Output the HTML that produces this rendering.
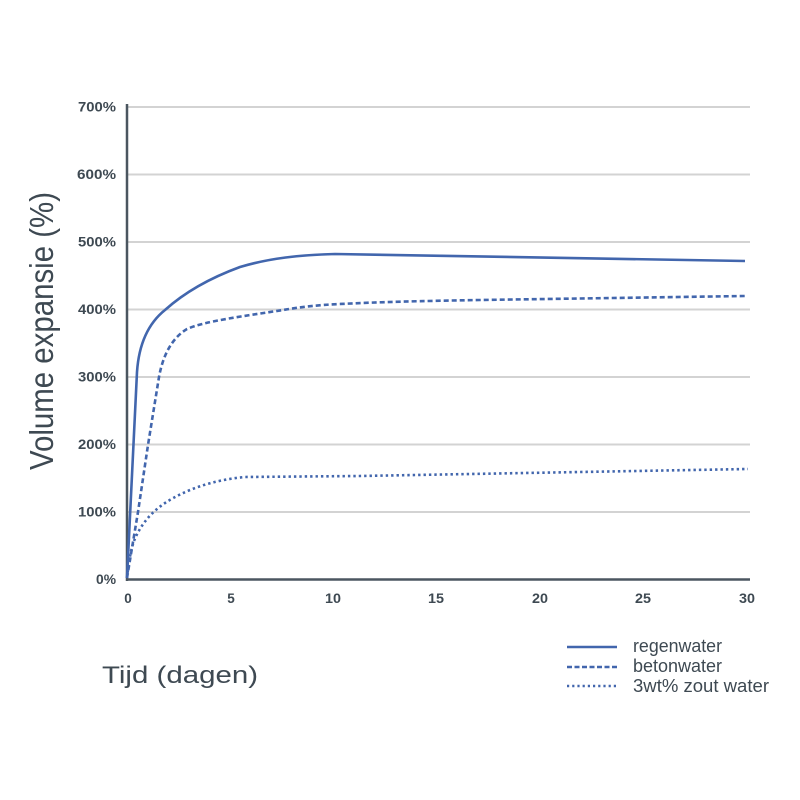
<!DOCTYPE html>
<html>
<head>
<meta charset="utf-8">
<style>
  html,body{margin:0;padding:0;background:#fff;}
  svg{display:block;}
  text{font-family:"Liberation Sans", Arial, sans-serif;fill:#3e4952;}
  .tick{font-weight:bold;font-size:13.5px;}
</style>
</head>
<body>
<svg width="800" height="800" viewBox="0 0 800 800" xmlns="http://www.w3.org/2000/svg">
  <rect width="800" height="800" fill="#ffffff"/>
  <!-- gridlines -->
  <g stroke="#d3d3d3" stroke-width="2">
    <line x1="128" y1="107" x2="750" y2="107"/>
    <line x1="128" y1="174.5" x2="750" y2="174.5"/>
    <line x1="128" y1="242" x2="750" y2="242"/>
    <line x1="128" y1="309.5" x2="750" y2="309.5"/>
    <line x1="128" y1="377" x2="750" y2="377"/>
    <line x1="128" y1="444.5" x2="750" y2="444.5"/>
    <line x1="128" y1="512" x2="750" y2="512"/>
  </g>
  <!-- axes -->
  <line x1="127" y1="104" x2="127" y2="581" stroke="#4b5660" stroke-width="2.5"/>
  <line x1="126" y1="579.5" x2="750" y2="579.5" stroke="#4b5660" stroke-width="2.5"/>

  <!-- y tick labels -->
  <g class="tick" text-anchor="end">
    <text x="116" y="111.5" textLength="38" lengthAdjust="spacingAndGlyphs">700%</text>
    <text x="116" y="179" textLength="39" lengthAdjust="spacingAndGlyphs">600%</text>
    <text x="116" y="246.5" textLength="38" lengthAdjust="spacingAndGlyphs">500%</text>
    <text x="116" y="314" textLength="38" lengthAdjust="spacingAndGlyphs">400%</text>
    <text x="116" y="381.5" textLength="38" lengthAdjust="spacingAndGlyphs">300%</text>
    <text x="116" y="449" textLength="38" lengthAdjust="spacingAndGlyphs">200%</text>
    <text x="116" y="516.5" textLength="38" lengthAdjust="spacingAndGlyphs">100%</text>
    <text x="116" y="584" textLength="20" lengthAdjust="spacingAndGlyphs">0%</text>
  </g>
  <!-- x tick labels -->
  <g class="tick" text-anchor="middle">
    <text x="128" y="603">0</text>
    <text x="231" y="603">5</text>
    <text x="333" y="603" textLength="16" lengthAdjust="spacingAndGlyphs">10</text>
    <text x="436" y="603" textLength="16" lengthAdjust="spacingAndGlyphs">15</text>
    <text x="540" y="603" textLength="16" lengthAdjust="spacingAndGlyphs">20</text>
    <text x="643" y="603" textLength="16" lengthAdjust="spacingAndGlyphs">25</text>
    <text x="747" y="603" textLength="16" lengthAdjust="spacingAndGlyphs">30</text>
  </g>

  <!-- series -->
  <g fill="none" stroke="#4266ad" stroke-width="2.6" stroke-linejoin="round">
    <!-- regenwater -->
    <path d="M127,578 L137,372 C139,342 150,322 165,310 C185,292 210,278 240,267 C270,258 300,255 335,254 L745,261"/>
    <!-- betonwater -->
    <path stroke-dasharray="5 3" d="M127,578 L138,512 L148,445 L159,377 C163,355 172,338 187,329 C205,321 245,316 283,310 C300,307 318,305 340,304 C380,302 420,301 480,300 L745,296"/>
    <!-- zout water -->
    <path stroke-dasharray="2.4 3" d="M127,578 C129,560 131,549 134,541 C140,526 150,513 165,503 C185,490 212,480 245,477 L360,476 L580,472 L748,469"/>
  </g>

  <!-- axis titles -->
  <text x="0" y="0" font-size="33" textLength="278" lengthAdjust="spacingAndGlyphs" text-anchor="middle" transform="translate(53,331) rotate(-90)">Volume expansie (%)</text>
  <text x="102" y="683" font-size="24.5" textLength="156" lengthAdjust="spacingAndGlyphs">Tijd (dagen)</text>

  <!-- legend -->
  <g fill="none" stroke="#4266ad" stroke-width="2.6">
    <line x1="567" y1="647" x2="617" y2="647"/>
    <line x1="567" y1="667" x2="617" y2="667" stroke-dasharray="5 2.5"/>
    <line x1="567" y1="686" x2="619" y2="686" stroke-dasharray="2.2 3"/>
  </g>
  <g font-size="18">
    <text x="633" y="652" textLength="89" lengthAdjust="spacingAndGlyphs">regenwater</text>
    <text x="633" y="672" textLength="89" lengthAdjust="spacingAndGlyphs">betonwater</text>
    <text x="633" y="692" textLength="136" lengthAdjust="spacingAndGlyphs">3wt% zout water</text>
  </g>
</svg>
</body>
</html>
